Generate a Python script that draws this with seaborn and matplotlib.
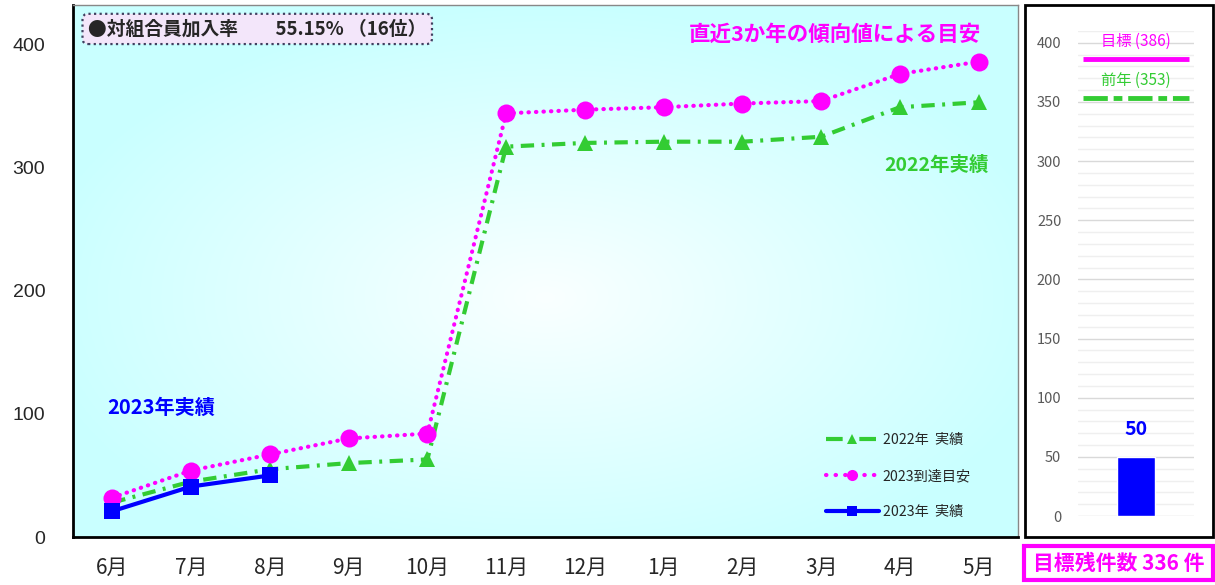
import numpy as np
import pandas as pd
import matplotlib.pyplot as plt
import matplotlib.patches as mpatches
from matplotlib.lines import Line2D
import seaborn as sns

months = ["6月", "7月", "8月", "9月", "10月", "11月", "12月", "1月", "2月", "3月", "4月", "5月"]
actual_2022 = [28, 45, 55, 60, 63, 317, 320, 321, 321, 325, 349, 353]
target_2023 = [32, 54, 67, 80, 84, 344, 347, 349, 352, 354, 376, 386]
actual_2023 = [21, 41, 50]

goal_value = 386
prev_value = 353
current_value = 50
remaining = 336

GREEN = "#33cc33"
MAGENTA = "#ff00ff"
BLUE = "#0000ff"

sns.set_style("white")
plt.rcParams["font.family"] = ["Noto Sans CJK JP", "DejaVu Sans"]

fig = plt.figure(figsize=(12.15, 5.85), dpi=100)
W, H = 1215, 585


def px_rect(x0, y0, x1, y1):
    return [x0 / W, 1 - y1 / H, (x1 - x0) / W, (y1 - y0) / H]


# ---------------- main chart ----------------
ax = fig.add_axes(px_rect(73, 5, 1018, 537))

# radial light cyan background
gx, gy = np.meshgrid(np.linspace(-1, 1, 300), np.linspace(-1, 1, 200))
r = np.clip(np.sqrt(((gx - 0.0) / 1.1) ** 2 + ((gy + 0.1) / 1.1) ** 2), 0, 1)
edge = np.array([0.79, 1.0, 1.0])
centre = np.array([0.98, 1.0, 1.0])
img = centre[None, None, :] * (1 - r[..., None]) + edge[None, None, :] * r[..., None]
ax.imshow(img, extent=(-0.5, 11.5, 0, 432), aspect="auto", zorder=0, origin="lower")

df22 = pd.DataFrame({"month": months, "value": actual_2022})
dft = pd.DataFrame({"month": months, "value": target_2023})
df23 = pd.DataFrame({"month": months[:len(actual_2023)], "value": actual_2023})

sns.lineplot(data=df22, x="month", y="value", ax=ax, color=GREEN, lw=3,
             marker="^", markersize=12, markeredgewidth=0, sort=False, zorder=3)
ax.lines[-1].set_dashes([3.2, 1.8, 0.7, 1.8])
sns.lineplot(data=dft, x="month", y="value", ax=ax, color=MAGENTA, lw=3,
             marker="o", markersize=13, markeredgewidth=0, sort=False, zorder=4)
ax.lines[-1].set_dashes([0.1, 1.7])
ax.lines[-1].set_dash_capstyle("round")
sns.lineplot(data=df23, x="month", y="value", ax=ax, color=BLUE, lw=3,
             marker="s", markersize=11, markeredgewidth=0, sort=False, zorder=5)

ax.set_xlim(-0.5, 11.5)
ax.set_ylim(0, 432)
ax.set_xlabel("")
ax.set_ylabel("")
ax.set_yticks([0, 100, 200, 300, 400])
ax.tick_params(axis="y", direction="in", length=5, width=1, labelsize=14, pad=20, color="black")
ax.tick_params(axis="x", length=0, labelsize=15, pad=14)
for lab in ax.get_yticklabels():
    lab.set_fontfamily("Liberation Sans")
ax.set_xticks(np.arange(0.5, 11.5, 1), minor=True)
ax.tick_params(axis="x", which="minor", direction="in", length=6, width=1, color="#555555")
for s in ["left", "bottom"]:
    ax.spines[s].set_color("black")
    ax.spines[s].set_linewidth(2)
for s in ["top", "right"]:
    ax.spines[s].set_color("#888888")
    ax.spines[s].set_linewidth(1)

ax.annotate("●対組合員加入率　　55.15% （16位）", xy=(0.016, 0.955), xycoords="axes fraction",
            fontsize=13.5, fontweight="bold", va="center", ha="left",
            bbox=dict(boxstyle="round,pad=0.3", fc="#f3e6fa", ec="#404060", ls=(0, (1, 1.5)), lw=1.6))
ax.text(9.18, 408, "直近3か年の傾向値による目安", color=MAGENTA, fontsize=15.5,
        fontweight="bold", ha="center", va="center")
ax.text(10.46, 302, "2022年実績", color=GREEN, fontsize=14, fontweight="bold",
        ha="center", va="center")
ax.text(0.62, 105, "2023年実績", color=BLUE, fontsize=14.5, fontweight="bold",
        ha="center", va="center")

handles = [
    Line2D([], [], color=GREEN, lw=3, marker="^", markersize=7, markeredgewidth=0, dashes=[4, 4]),
    Line2D([], [], color=MAGENTA, lw=3, marker="o", markersize=8, markeredgewidth=0, dashes=[0.1, 2.2],
           dash_capstyle="round"),
    Line2D([], [], color=BLUE, lw=3, marker="s", markersize=7, markeredgewidth=0),
]
ax.legend(handles, ["2022年  実績", "2023到達目安", "2023年  実績"], loc="upper left",
          bbox_to_anchor=(0.797, 0.195), frameon=False, fontsize=10.2, labelspacing=1.55,
          handlelength=3.7, handletextpad=0.3, borderpad=0, borderaxespad=0)

# ---------------- right gauge panel ----------------
frame = mpatches.Rectangle((1025 / W, 1 - 537 / H), 188 / W, 532 / H, transform=fig.transFigure,
                           fill=False, ec="black", lw=2)
fig.patches.append(frame)

ax2 = fig.add_axes(px_rect(1078, 31, 1194, 516))
gauge = pd.DataFrame({"item": ["現在"], "value": [current_value]})
sns.barplot(data=gauge, x="item", y="value", ax=ax2, color=BLUE, width=0.32, saturation=1)
ax2.set_xlim(-0.5, 0.5)
ax2.set_ylim(0, 410)
ax2.set_xlabel("")
ax2.set_ylabel("")
ax2.set_xticks([])
ax2.set_yticks(np.arange(0, 401, 50))
ax2.set_yticks(np.arange(0, 411, 10), minor=True)
ax2.grid(axis="y", which="major", color="#d9d9d9", lw=1)
ax2.grid(axis="y", which="minor", color="#efefef", lw=1)
ax2.set_axisbelow(True)
ax2.tick_params(axis="y", which="both", length=0, labelsize=10.5, labelcolor="#595959", pad=12)
for s in ax2.spines.values():
    s.set_visible(False)

ax2.hlines(goal_value, -0.457, 0.457, color=MAGENTA, lw=3.5)
ax2.hlines(prev_value, -0.457, 0.457, color=GREEN, lw=3.5, linestyles=(0, (5, 1.2, 1.8, 1.2)))
ax2.text(0, 401, f"目標 ({goal_value})", color=MAGENTA, fontsize=11, ha="center", va="center")
ax2.text(0, 368, f"前年 ({prev_value})", color=GREEN, fontsize=11, ha="center", va="center")
ax2.text(0, 73, str(current_value), color=BLUE, fontsize=14, fontweight="bold",
         ha="center", va="center")

box = mpatches.Rectangle((1024 / W, 1 - 580 / H), 189 / W, 34 / H, transform=fig.transFigure,
                         fill=False, ec=MAGENTA, lw=3)
fig.patches.append(box)
fig.text(1119 / W, 1 - 563 / H, f"目標残件数 {remaining} 件", color=MAGENTA, fontsize=15,
         fontweight="bold", ha="center", va="center")

fig.savefig("out.png", dpi=100)
